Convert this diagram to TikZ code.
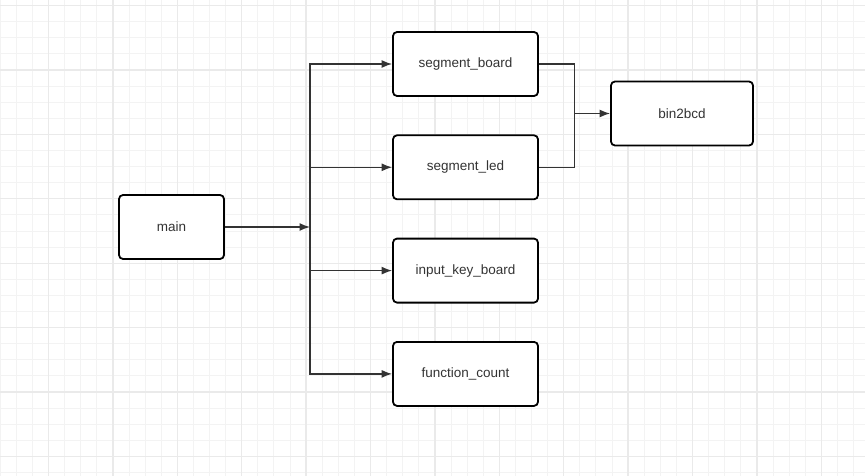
\documentclass[tikz,border=0pt]{standalone}
\usepackage{fontspec}
\setmainfont{Liberation Sans}
\usetikzlibrary{arrows.meta,positioning,calc}
\definecolor{gridminor}{HTML}{F3F3F3}
\definecolor{gridmajor}{HTML}{EAEAEA}
\definecolor{wirecol}{HTML}{333333}
\tikzset{
    block/.style = {draw=black, fill=white, rectangle, rounded corners=4pt, line width=1.8pt, minimum width=145pt, minimum height=64pt, inner sep=0pt, text=wirecol, font=\fontsize{13.5}{16}\selectfont},
    tmp/.style  = {coordinate},
    wire/.style = {draw=wirecol, line width=1.3pt},
    minorline/.style = {gridminor, line width=0.9pt},
    majorline/.style = {gridmajor, line width=1.3pt}
}

\begin{document}
\begin{tikzpicture}[x=1pt, y=-1pt, node distance=103.3pt, >={Latex[length=10.5pt,width=8pt]}]
    \useasboundingbox (0,0) rectangle (865,476);
    \fill [white] (0,0) rectangle (865,476);
    % background grid
    \foreach \i in {0,...,53} \draw [minorline] ({0.2+16.1*\i},0) -- ++(0,476);
    \foreach \j in {0,...,29} \draw [minorline] (0,{5.6+16.1*\j}) -- ++(865,0);
    \foreach \i in {0,...,12} \draw [majorline] ({48.5+64.4*\i},0) -- ++(0,476);
    \foreach \j in {0,...,7}  \draw [majorline] (0,{5.6+64.4*\j}) -- ++(865,0);

    \node [block, minimum width=105pt] (main)  at (171.5,227)           {main};
    \node [block]                      (segment_board) at (465.5,64)     {segment\_board};
    \node [block, below of=segment_board]   (segment_led)     {segment\_led};
    \node [block, below of=segment_led]     (input_key_board) {input\_key\_board};
    \node [block, below of=input_key_board] (function_count)  {function\_count};
    \node [block, minimum width=142pt] (bin2bcd) at (682,113.5)        {bin2bcd};
    \node [tmp] (bus)   at (310,227)   {};
    \node [tmp] (merge) at (574.5,113.5) {};

    \draw [wire, ->] (main) -- (bus);
    \draw [wire, ->] (bus) |- (segment_board);
    \draw [wire, ->] (bus) |- (segment_led);
    \draw [wire, ->] (bus) |- (input_key_board);
    \draw [wire, ->] (bus) |- (function_count);
    \draw [wire] (segment_board) -| (merge);
    \draw [wire] (segment_led) -| (merge);
    \draw [wire, ->] (merge) -- (bin2bcd);
\end{tikzpicture}
\end{document}
